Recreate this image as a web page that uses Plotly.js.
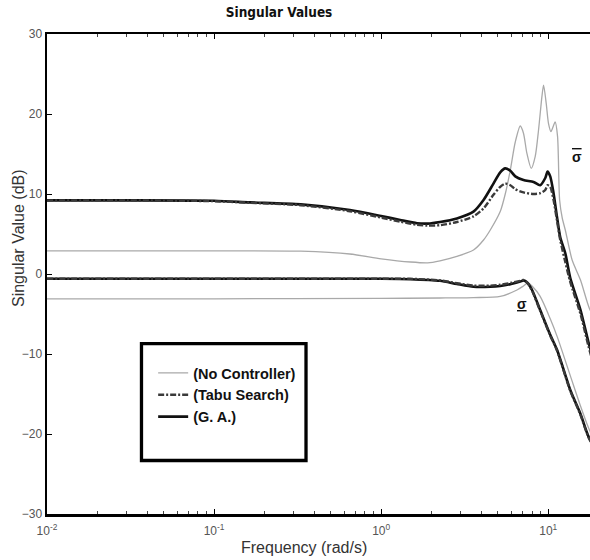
<!DOCTYPE html>
<html><head><meta charset="utf-8">
<script src="https://cdn.plot.ly/plotly-3.0.1.min.js"></script>
<style>html,body{margin:0;padding:0;background:#fff}#chart{width:590px;height:560px}</style>
</head><body><div id="chart"></div>
<script>
// ---- data (frequency in rad/s, singular values in dB) ----
const freqNoCtrlUpper = [0.01, 0.1, 0.33, 0.65, 1.0, 1.5, 1.9, 2.25, 2.84, 3.57, 4.10, 4.50, 5.16, 5.53, 5.93, 6.35, 6.80, 7.11, 7.45, 7.91, 8.36, 8.75, 9.17, 9.38, 9.73, 10.04, 10.38, 11.0, 11.37, 11.7, 12.13, 12.65, 13.9, 15.6, 17.8, 20];
const svNoCtrlUpper   = [2.9, 2.9, 2.85, 2.5, 1.9, 1.5, 1.4, 1.65, 2.2, 3.0, 4.25, 5.5, 7.8, 10.0, 13.0, 16.5, 18.5, 17.6, 15.1, 13.2, 14.7, 18.0, 22.2, 23.6, 21.3, 18.8, 17.8, 19.0, 17.2, 9.25, 7.0, 5.5, 1.75, -0.75, -4.5, -6.0];

const freqNoCtrlLower = [0.01, 0.1, 1.0, 2.25, 3.57, 5.16, 6.50, 7.11, 7.58, 8.0, 8.95, 10.28, 11.3, 13.55, 15.6, 17.4, 20];
const svNoCtrlLower   = [-3.1, -3.1, -3.05, -3.0, -2.95, -2.8, -2.0, -1.5, -1.1, -1.5, -2.8, -5.6, -7.8, -12.7, -16.5, -19.2, -22.0];

const freqGAUpper = [0.01, 0.03, 0.1, 0.164, 0.33, 0.65, 1.0, 1.3, 1.64, 1.9, 2.25, 2.84, 3.57, 4.10, 4.70, 5.16, 5.53, 5.93, 6.35, 7.11, 8.17, 8.95, 9.60, 9.91, 10.28, 10.76, 11.27, 11.8, 12.65, 13.55, 15.6, 17.4, 19.1];
const svGAUpper   = [9.2, 9.2, 9.15, 8.95, 8.7, 8.0, 7.25, 6.75, 6.35, 6.3, 6.5, 6.95, 7.8, 9.25, 11.3, 12.7, 13.2, 12.9, 12.2, 11.75, 11.5, 11.1, 12.0, 12.8, 12.2, 10.1, 7.2, 4.6, 2.6, -0.5, -4.5, -8.5, -11.5];

const freqGALower = [0.01, 0.1, 1.0, 1.49, 2.25, 2.84, 3.57, 4.5, 5.16, 6.0, 6.8, 7.11, 7.5, 8.0, 8.95, 10.28, 11.3, 13.55, 15.6, 17.4, 20];
const svGALower   = [-0.6, -0.6, -0.6, -0.65, -0.85, -1.25, -1.6, -1.6, -1.5, -1.25, -0.95, -0.8, -1.1, -2.0, -4.5, -7.6, -9.5, -14.5, -17.5, -20.3, -22.5];

const freqTabuUpper = [0.01, 0.03, 0.1, 0.164, 0.33, 0.65, 1.0, 1.3, 1.64, 1.9, 2.25, 2.84, 3.57, 4.10, 4.70, 5.16, 5.53, 5.93, 6.35, 7.11, 8.17, 8.95, 9.60, 9.91, 10.28, 10.76, 11.27, 11.8, 12.65, 13.55, 15.6, 17.4, 19.1];
const svTabuUpper   = [9.2, 9.2, 9.1, 8.9, 8.6, 7.85, 7.05, 6.55, 6.15, 6.05, 6.1, 6.5, 7.2, 8.2, 9.9, 10.9, 11.3, 11.1, 10.6, 10.2, 10.0, 10.1, 10.5, 11.1, 10.9, 9.25, 6.75, 4.25, 1.5, -1.0, -5.0, -9.0, -12.0];

const freqTabuLower = [0.01, 0.1, 1.0, 1.49, 2.25, 2.84, 3.57, 4.5, 5.16, 6.0, 6.8, 7.11, 7.5, 8.0, 8.95, 10.28, 11.3, 13.55, 15.6, 17.4, 20];
const svTabuLower   = [-0.6, -0.6, -0.6, -0.6, -0.8, -1.15, -1.45, -1.45, -1.35, -1.1, -0.85, -0.75, -1.1, -2.1, -4.6, -7.7, -9.6, -14.6, -17.6, -20.4, -22.6];

const seriesNames = ['(No Controller)', '(Tabu Search)', '(G. A.)'];
const xTickVals = [0.01, 0.1, 1, 10];
const xTickText = ['10<sup>-2</sup>', '10<sup>-1</sup>', '10<sup>0</sup>', '10<sup>1</sup>'];
const yTickVals = [-30, -20, -10, 0, 10, 20, 30];

// ---- styles ----
const grayLine = {color: '#a9a9a9', width: 1.3, shape: 'spline', smoothing: 0.7};
const gaLine   = {color: '#111111', width: 2.6, shape: 'spline', smoothing: 0.7};
const tabuLine = {color: '#3a3a3a', width: 2.4, dash: '6px,2px,2px,2px', shape: 'spline', smoothing: 0.7};

const traces = [
  {x: freqNoCtrlUpper, y: svNoCtrlUpper, name: seriesNames[0], legendgroup: 'nc', legendrank: 1, mode: 'lines', line: grayLine},
  {x: freqNoCtrlLower, y: svNoCtrlLower, name: seriesNames[0], legendgroup: 'nc', showlegend: false, mode: 'lines', line: grayLine},
  {x: freqGAUpper, y: svGAUpper, name: seriesNames[2], legendgroup: 'ga', legendrank: 3, mode: 'lines', line: gaLine},
  {x: freqGALower, y: svGALower, name: seriesNames[2], legendgroup: 'ga', showlegend: false, mode: 'lines', line: gaLine},
  {x: freqTabuUpper, y: svTabuUpper, name: seriesNames[1], legendgroup: 'tabu', legendrank: 2, mode: 'lines', line: tabuLine},
  {x: freqTabuLower, y: svTabuLower, name: seriesNames[1], legendgroup: 'tabu', showlegend: false, mode: 'lines', line: tabuLine}
];

const minorVals = [];
for (let d = -2; d <= 1; d++) for (let k = 2; k <= 9; k++) minorVals.push(k * Math.pow(10, d));

const layout = {
  width: 590, height: 560,
  margin: {l: 47, r: 0, t: 34, b: 46, pad: 0},
  paper_bgcolor: '#ffffff', plot_bgcolor: '#ffffff',
  font: {family: "'Liberation Sans', Arial, sans-serif", color: '#333'},
  title: {text: 'Singular Values', font: {family: "'Liberation Sans Narrow', 'DejaVu Sans Condensed', sans-serif", size: 13.5, weight: 'bold', color: '#111'},
          xref: 'container', x: 0.473, xanchor: 'center', yref: 'container', y: 0.978, yanchor: 'middle'},
  showlegend: true,
  legend: {x: 0.1955, y: 0.327, xanchor: 'left', yanchor: 'top', bgcolor: 'rgba(0,0,0,0)', borderwidth: 0,
           font: {size: 14.5, weight: 'bold', color: '#111'}, traceorder: 'normal'},
  xaxis: {type: 'log', range: [-2, 1.25], tickmode: 'array', tickvals: xTickVals, ticktext: xTickText,
          ticks: 'inside', ticklen: 5, tickwidth: 1, tickcolor: '#000', showline: true, linecolor: '#000', linewidth: 2.5,
          mirror: 'ticks', showgrid: false, zeroline: false, tickfont: {size: 12, color: '#555'}, ticklabelstandoff: 4,
          minor: {tickmode: 'array', tickvals: minorVals, ticks: 'inside', ticklen: 3, tickwidth: 1, tickcolor: '#444', showgrid: false}},
  yaxis: {range: [-30, 30], tickmode: 'array', tickvals: yTickVals, ticks: 'inside', ticklen: 5, tickwidth: 1, tickcolor: '#000',
          showline: true, linecolor: '#000', linewidth: 2.5, mirror: false, showgrid: false, zeroline: false,
          tickfont: {size: 12, color: '#555'}},
  shapes: [
    {type: 'rect', xref: 'paper', yref: 'paper', x0: 0.174, x1: 0.477, y0: 0.1115, y1: 0.355, line: {color: '#000', width: 3.3}, fillcolor: 'rgba(0,0,0,0)'}
  ],
  annotations: [
    {text: 'Singular Value (dB)', xref: 'paper', yref: 'paper', x: -0.0534, y: 0.575, textangle: -90, showarrow: false,
     xanchor: 'center', yanchor: 'middle', font: {size: 16, color: '#333'}},
    {text: 'Frequency (rad/s)', xref: 'paper', yref: 'paper', x: 0.473, y: -0.0708, showarrow: false,
     xanchor: 'center', yanchor: 'middle', font: {size: 16, color: '#333'}},
    {text: '<span style="text-decoration:overline">σ</span>', xref: 'paper', yref: 'y', x: 0.976, y: 14.6, showarrow: false, xanchor: 'center', yanchor: 'middle',
     font: {size: 14, color: '#111', weight: 'bold'}},
    {text: '<span style="text-decoration:underline">σ</span>', xref: 'paper', yref: 'y', x: 0.875, y: -3.75, showarrow: false, xanchor: 'center', yanchor: 'middle',
     font: {size: 14, color: '#111', weight: 'bold'}}
  ]
};

Plotly.newPlot('chart', traces, layout, {displayModeBar: false, staticPlot: true});
</script>
</body></html>
